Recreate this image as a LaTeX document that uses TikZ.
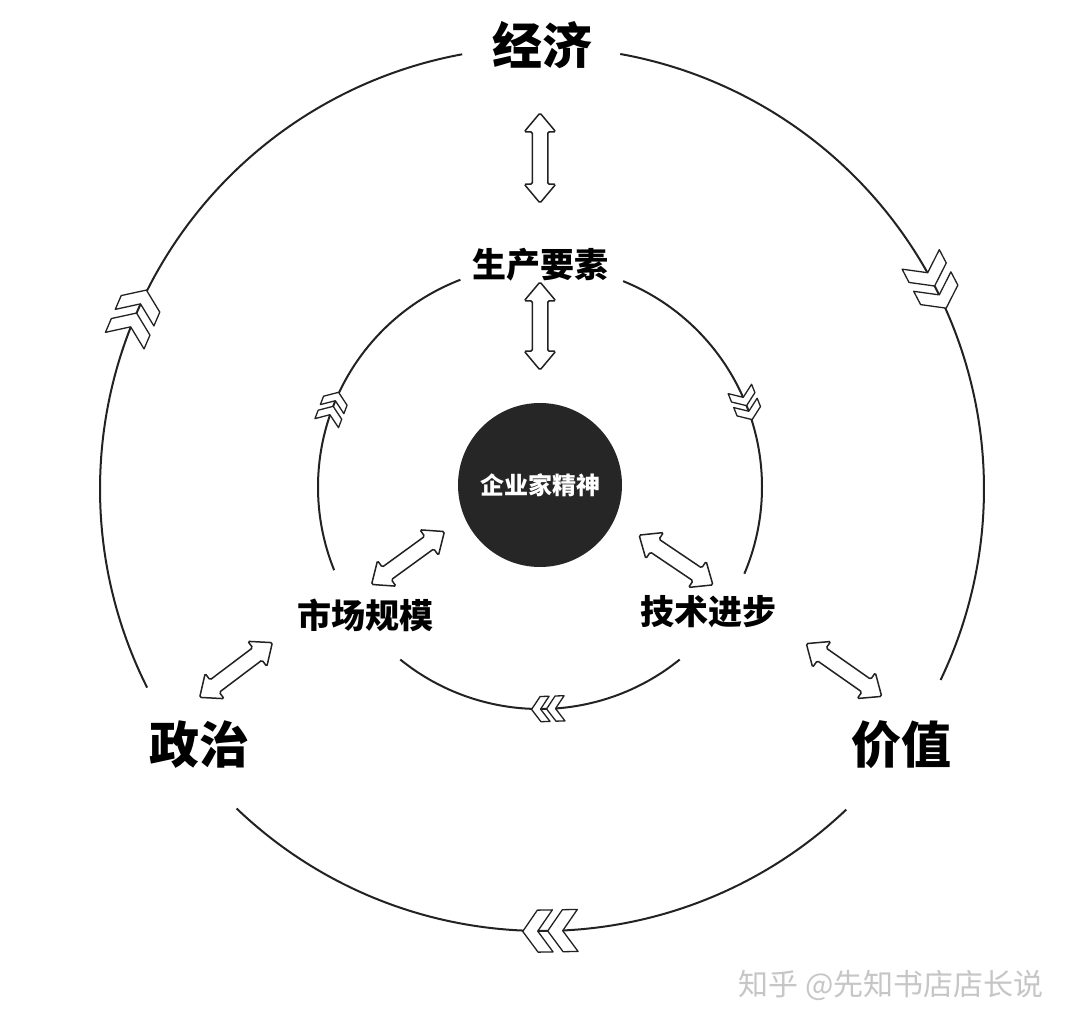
\documentclass[tikz,border=0pt]{standalone}
\usepackage{fontspec}
\newfontfamily\cjk{Noto Sans CJK SC}
\usetikzlibrary{shapes.arrows,calc}
\definecolor{corefill}{HTML}{262626}
\definecolor{inkline}{HTML}{222222}

\begin{document}
\begin{tikzpicture}[
  x=1pt, y=1pt,
  ring/.style={line width=2pt, draw=inkline},
  biglabel/.style={font=\cjk\bfseries\fontsize{50}{50}\selectfont},
  midlabel/.style={font=\cjk\bfseries\fontsize{34}{34}\selectfont},
  dblarrow/.style={double arrow, draw=inkline, fill=white, line width=1.5pt, inner xsep=0pt, inner ysep=7pt, minimum width=28pt, double arrow head extend=8pt, double arrow tip angle=80, rounded corners=1.5pt},
  chevs/.pic={
    \foreach \d in {0,-25}{
      \filldraw[fill=white, draw=inkline, line width=1.3pt, line join=round] (27+\d,0) -- (12+\d,21) -- (-3+\d,21) -- (12+\d,0) -- (-3+\d,-21) -- (12+\d,-21) -- cycle;
    }
  }
]
\useasboundingbox (0,0) rectangle (1080,-1028);
\fill[white] (0,0) rectangle (1080,-1028);

\coordinate (O) at (542,-489);
\coordinate (I) at (540,-487);

\draw[ring] ($(O)+(79.8:442)$) arc[start angle=79.8, end angle=-25.6, radius=442pt];
\draw[ring] ($(O)+(-46.5:442)$) arc[start angle=-46.5, end angle=-133.7, radius=442pt];
\draw[ring] ($(O)+(206.7:442)$) arc[start angle=206.7, end angle=100.4, radius=442pt];

\draw[ring] ($(I)+(68:222)$) arc[start angle=68, end angle=-23, radius=222pt];
\draw[ring] ($(I)+(-51:222)$) arc[start angle=-51, end angle=-129, radius=222pt];
\draw[ring] ($(I)+(202:222)$) arc[start angle=202, end angle=111, radius=222pt];

\pic[rotate=66.8] at ($(O)+(156.8:442)$) {chevs};
\pic[rotate=-62.4] at ($(O)+(27.6:442)$) {chevs};
\pic[rotate=-179] at ($(O)+(-89:442)$) {chevs};
\pic[rotate=69, scale=0.6] at ($(I)+(159:222)$) {chevs};
\pic[rotate=-68.2, scale=0.6] at ($(I)+(21.8:222)$) {chevs};
\pic[rotate=-178, scale=0.6] at ($(I)+(-88:222)$) {chevs};

\node[circle, fill=corefill, minimum size=164pt, inner sep=0pt, text=white, font=\cjk\bfseries\fontsize{24}{24}\selectfont] (core) at (540,-485) {企业家精神};

\node[biglabel] (econ) at (542,-45) {经济};
\node[biglabel] (polit) at (199,-745) {政治};
\node[biglabel] (value) at (901,-745) {价值};

\node[midlabel] (factor) at (540,-265) {生产要素};
\node[midlabel] (market) at (365,-615) {市场规模};
\node[midlabel] (tech) at (708,-612) {技术进步};

\node[dblarrow, minimum height=90pt, rotate=90] (econfactor) at (540,-158) {};
\node[dblarrow, minimum height=88pt, rotate=90] (factorcore) at (540,-326) {};
\node[dblarrow, minimum height=90pt, rotate=36] (marketcore) at (408,-558) {};
\node[dblarrow, minimum height=89pt, rotate=-34] (techcore) at (676,-560) {};
\node[dblarrow, minimum height=91pt, rotate=37] (politmarket) at (236,-670) {};
\node[dblarrow, minimum height=92pt, rotate=-35] (valuetech) at (844,-670) {};

\node[font=\cjk\fontsize{30}{30}\selectfont, text=gray!45] (mark) at (891,-985) {知乎 @先知书店店长说};
\end{tikzpicture}
\end{document}
